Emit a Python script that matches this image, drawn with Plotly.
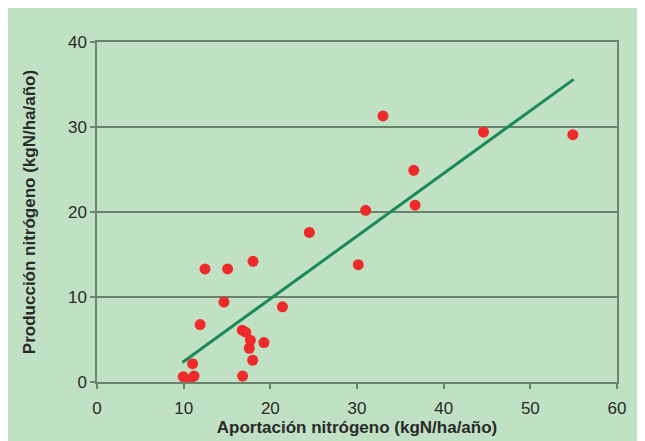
import plotly.graph_objects as go

aportacion = [9.95, 10.65, 11.2, 11.03, 11.9, 12.46, 14.65, 15.07, 16.76, 17.15, 17.7, 17.57,
              17.96, 16.8, 18.0, 19.26, 21.4, 24.5, 30.15, 31.0, 33.0, 36.55, 36.7, 44.6, 54.9]
produccion = [0.63, 0.24, 0.7, 2.16, 6.76, 13.3, 9.4, 13.3, 6.1, 5.86, 4.9, 3.97,
              2.56, 0.7, 14.2, 4.64, 8.85, 17.6, 13.8, 20.2, 31.3, 24.9, 20.8, 29.4, 29.1]
trend_x = [9.85, 55.0]
trend_y = [2.3, 35.6]

x_ticks = [0, 10, 20, 30, 40, 50, 60]
y_ticks = [0, 10, 20, 30, 40]

grid_col = "#6a836d"
font_col = "#2a2a2a"

fig = go.Figure()
fig.add_trace(go.Scatter(x=trend_x, y=trend_y, mode="lines",
                         line=dict(color="#1b8a57", width=3), showlegend=False))
fig.add_trace(go.Scatter(x=aportacion, y=produccion, mode="markers",
                         marker=dict(color="#ee2a2a", size=11, line=dict(width=0)),
                         showlegend=False))

fig.update_layout(
    width=645, height=441,
    margin=dict(l=89, r=36, t=34, b=67),
    paper_bgcolor="#c0e1c3",
    plot_bgcolor="rgba(0,0,0,0)",
    font=dict(family="Liberation Sans, Arial, sans-serif", size=16, color=font_col),
    xaxis=dict(range=[0, 60], tickvals=x_ticks, showgrid=False, zeroline=False,
               automargin=False,
               showline=True, linecolor=grid_col, linewidth=1.5, mirror=True,
               ticks="outside", ticklen=5, tickcolor=grid_col, tickwidth=1.5,
               ticklabelstandoff=5,
               tickfont=dict(size=17, color=font_col),
               title=dict(text="<b>Aportación nitrógeno (kgN/ha/año)</b>", standoff=4,
                          font=dict(size=17, color=font_col))),
    yaxis=dict(range=[0, 40], tickvals=y_ticks, showgrid=True, gridcolor=grid_col,
               gridwidth=1.5, zeroline=False, automargin=False,
               showline=True, linecolor=grid_col, linewidth=1.5, mirror=True,
               ticks="outside", ticklen=5, tickcolor=grid_col, tickwidth=1.5,
               tickfont=dict(size=17, color=font_col),
               title=dict(text="<b>Producción nitrógeno (kgN/ha/año)</b>", standoff=28,
                          font=dict(size=17, color=font_col))),
)

fig.write_html("out.html")
